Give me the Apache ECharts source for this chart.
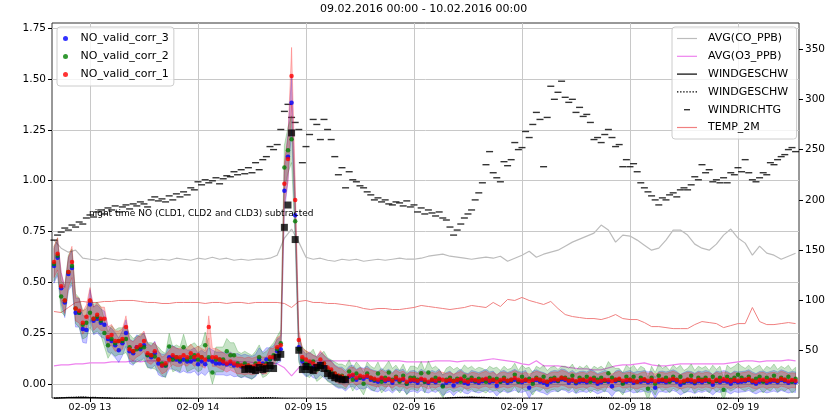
<!DOCTYPE html>
<html>
<head>
<meta charset="utf-8">
<script src="https://cdn.jsdelivr.net/npm/echarts@6/dist/echarts.min.js"></script>
<style>
  html, body { margin: 0; padding: 0; background: #fff; }
  #chart { width: 831px; height: 414px; }
</style>
</head>
<body>
<div id="chart"></div>
<script>
// x is kept as minutes after 09.02.2016 12:00
const DAY_START = new Date(2016, 1, 9, 12, 0).getTime();
const MIN = 60000;

// NO and wind direction: every 2 min from 12:40
const NO_START = 40, NO_STEP = 2;
// CO, O3, temperature: every 4 min from 12:40
const MET_START = 40, MET_STEP = 4;
// wind speed: every 8 min from 12:40
const WS_START = 40, WS_STEP = 8;
// flagged NO points (black squares): every 2 min from 14:26
const FLAG_START = 146;

const NO_CORR_1 = [
  0.60, 0.64, 0.48, 0.41, 0.55, 0.60, 0.37, 0.36, 0.30, 0.33,
  0.41, 0.32, 0.34, 0.32, 0.32, 0.23, 0.24, 0.21, 0.21, 0.22,
  0.28, 0.17, 0.16, 0.18, 0.19, 0.21, 0.15, 0.14, 0.16, 0.12,
  0.09, 0.10, 0.12, 0.14, 0.13, 0.13, 0.14, 0.13, 0.15, 0.13,
  0.14, 0.13, 0.12, 0.28, 0.13, 0.13, 0.12, 0.11, 0.10, 0.11,
  0.10, 0.09, 0.09, 0.085, 0.09, 0.085, 0.09, 0.10, 0.09, 0.09,
  0.13, 0.13, 0.18, 0.19, 0.985, 1.106, 1.515, 0.905, 0.215, 0.13,
  0.12, 0.11, 0.10, 0.09, 0.12, 0.10, 0.08, 0.07, 0.05, 0.04,
  0.036, 0.02, 0.04, 0.045, 0.03, 0.04, 0.035, 0.04, 0.03, 0.025,
  0.02, 0.03, 0.02, 0.025, 0.015, 0.03, 0.02, 0.025, 0.01, 0.02,
  0.02, 0.015, 0.025, 0.02, 0.01, 0.02, 0.015, 0.025, 0.02, 0.015,
  0.02, 0.012, 0.018, 0.025, 0.015, 0.01, 0.02, 0.018, 0.012, 0.02,
  0.025, 0.015, 0.02, 0.01, 0.018, 0.022, 0.015, 0.02, 0.028, 0.02,
  0.015, 0.02, 0.012, 0.018, 0.025, 0.02, 0.015, 0.01, 0.018, 0.022,
  0.02, 0.03, 0.025, 0.015, 0.02, 0.012, 0.018, 0.02, 0.015, 0.025,
  0.02, 0.01, 0.015, 0.02, 0.018, 0.012, 0.02, 0.025, 0.015, 0.018,
  0.02, 0.015, 0.01, 0.018, 0.022, 0.015, 0.02, 0.012, 0.018, 0.02,
  0.015, 0.02, 0.025, 0.018, 0.01, 0.015, 0.02, 0.018, 0.012, 0.02,
  0.015, 0.02, 0.018, 0.01, 0.02, 0.015, 0.022, 0.018, 0.012, 0.02,
  0.015, 0.018, 0.02, 0.025, 0.015, 0.01, 0.018, 0.02, 0.012, 0.018,
  0.02, 0.015, 0.025, 0.02, 0.012, 0.018, 0.015
];

const NO_CORR_2 = [
  0.59, 0.63, 0.43, 0.41, 0.55, 0.58, 0.37, 0.35, 0.29, 0.30,
  0.35, 0.32, 0.33, 0.31, 0.25, 0.19, 0.22, 0.20, 0.21, 0.21,
  0.22, 0.18, 0.16, 0.17, 0.18, 0.18, 0.14, 0.14, 0.134, 0.12,
  0.10, 0.09, 0.184, 0.12, 0.13, 0.12, 0.18, 0.12, 0.13, 0.14,
  0.12, 0.13, 0.19, 0.13, 0.056, 0.12, 0.12, 0.12, 0.16, 0.14,
  0.14, 0.10, 0.09, 0.10, 0.09, 0.08, 0.10, 0.13, 0.09, 0.10,
  0.12, 0.14, 0.17, 0.20, 1.065, 1.15, 1.204, 0.80, 0.17, 0.12,
  0.10, 0.09, 0.11, 0.07, 0.085, 0.10, 0.07, 0.06, 0.05, 0.04,
  0.04, 0.03, 0.06, 0.02, 0.05, 0.03, 0.0, 0.05, 0.03, 0.02,
  0.05, 0.01, 0.03, 0.055, 0.02, 0.035, 0.01, 0.04, 0.0, 0.03,
  0.03, 0.02, 0.052, 0.01, 0.055, 0.02, 0.03, 0.015, -0.013, 0.02,
  0.03, 0.015, 0.025, 0.01, 0.036, 0.02, 0.03, 0.015, 0.025, 0.02,
  0.01, 0.03, 0.02, 0.025, 0.01, 0.03, 0.015, 0.02, 0.044, 0.01,
  0.035, 0.02, 0.025, 0.0, 0.03, 0.02, 0.035, 0.01, 0.025, 0.03,
  0.015, 0.03, 0.03, 0.02, 0.04, 0.01, 0.03, 0.02, 0.035, 0.01,
  0.03, 0.02, 0.03, 0.015, 0.052, 0.03, 0.02, 0.02, 0.0, 0.035,
  0.02, 0.035, 0.01, 0.03, 0.02, -0.025, 0.03, 0.0, 0.04, 0.02,
  0.03, 0.01, 0.035, 0.02, 0.035, 0.01, 0.02, 0.04, 0.01, 0.03,
  0.02, 0.03, 0.01, 0.035, 0.015, 0.03, -0.03, 0.035, 0.02, 0.03,
  0.044, 0.03, 0.02, 0.035, 0.015, 0.025, 0.035, 0.01, 0.03, 0.02,
  0.04, 0.015, 0.03, 0.02, 0.035, 0.01, 0.025
];

const NO_CORR_3 = [
  0.58, 0.62, 0.47, 0.40, 0.54, 0.57, 0.35, 0.35, 0.27, 0.265,
  0.39, 0.31, 0.32, 0.30, 0.29, 0.22, 0.21, 0.19, 0.165, 0.20,
  0.25, 0.16, 0.15, 0.18, 0.17, 0.19, 0.142, 0.13, 0.15, 0.10,
  0.09, 0.09, 0.13, 0.13, 0.12, 0.11, 0.12, 0.11, 0.11, 0.12,
  0.096, 0.11, 0.096, 0.12, 0.11, 0.10, 0.10, 0.10, 0.095, 0.10,
  0.09, 0.093, 0.085, 0.09, 0.084, 0.08, 0.09, 0.12, 0.10, 0.12,
  0.12, 0.13, 0.16, 0.17, 0.95, 1.118, 1.384, 0.83, 0.18, 0.11,
  0.09, 0.10, 0.085, 0.08, 0.10, 0.085, 0.07, 0.06, 0.04, 0.03,
  0.03, 0.015, 0.035, 0.04, 0.02, 0.03, 0.025, 0.035, 0.02, 0.015,
  0.01, 0.025, 0.012, 0.02, 0.005, 0.022, 0.015, 0.02, 0.0, 0.012,
  0.015, 0.005, 0.02, 0.01, 0.005, 0.015, 0.008, 0.02, -0.008, 0.005,
  0.012, -0.008, 0.01, 0.02, 0.005, 0.0, 0.015, 0.01, 0.005, 0.012,
  0.02, 0.008, 0.012, -0.01, 0.01, 0.015, 0.005, 0.012, 0.02, 0.01,
  0.008, 0.015, -0.02, 0.012, 0.018, 0.01, 0.005, -0.005, 0.01, 0.015,
  0.012, 0.022, 0.018, 0.005, 0.015, 0.002, 0.01, 0.012, 0.008, 0.018,
  0.012, 0.0, 0.008, 0.015, 0.01, -0.012, 0.012, 0.018, 0.005, 0.01,
  0.015, 0.005, 0.01, 0.01, 0.015, 0.008, 0.012, -0.02, 0.01, 0.012,
  0.008, 0.012, 0.018, 0.01, -0.005, 0.005, 0.012, 0.01, 0.002, 0.012,
  0.008, 0.015, 0.01, -0.005, 0.012, 0.008, 0.015, 0.01, 0.0, 0.012,
  0.008, 0.01, 0.012, 0.018, 0.008, 0.0, 0.01, 0.012, 0.005, 0.01,
  0.015, 0.008, 0.018, 0.012, 0.005, 0.01, 0.008
];

const FLAGGED_NO = [
  0.07, 0.075, 0.07, 0.065, 0.08, 0.07, 0.075, 0.09, 0.075, 0.13,
  0.145, 0.77, 0.88, 1.235, 0.71, 0.165, 0.07, 0.085, 0.07, 0.065,
  0.08, 0.09, 0.075, 0.05, 0.04, 0.03, 0.025, 0.02, 0.02
];

const WINDRICHTG = [
  160, 165, 168, 172, 170, 175, 173, 178, 176, 182,
  185, 183, 188, 190, 186, 192, 190, 194, 188, 193,
  195, 191, 196, 194, 198, 196, 193, 200, 203, 199,
  201, 198, 204, 200, 206, 203, 208, 205, 212, 210,
  218, 215, 220, 217, 219, 222, 216, 221, 224, 223,
  228, 225, 230, 226, 232, 227, 237, 230, 240, 243,
  253, 250, 255, 270, 288, 295, 282, 277, 270, 237,
  253, 265, 280, 275, 260, 280, 270, 260, 243, 225,
  232, 212, 228, 220, 218, 214, 212, 208, 205, 200,
  202, 198, 200, 196, 195, 198, 197, 194, 199, 193,
  195, 188, 192, 186, 190, 187, 184, 188, 182, 180,
  173, 165, 170, 176, 182, 186, 190, 200, 207, 217,
  235, 248, 227, 222, 218, 238, 234, 240, 257, 250,
  252, 268, 262, 275, 287, 280, 233, 282, 313, 300,
  307, 318, 302, 297, 300, 287, 292, 283, 285, 277,
  260, 262, 257, 265, 270, 262, 253, 255, 233, 240,
  233, 236, 228, 217, 212, 208, 204, 200, 195, 202,
  200, 205, 207, 203, 210, 212, 210, 215, 223, 220,
  235, 227, 230, 218, 220, 217, 222, 217, 227, 225,
  232, 228, 240, 227, 220, 218, 222, 227, 225, 237,
  235, 240, 243, 245, 250, 252, 248
];

const CO_PPB = [
  160, 152, 148, 150, 142, 141, 140, 142, 141, 140,
  141, 140, 139, 141, 140, 141, 140, 142, 141, 140,
  142, 141, 143, 141, 142, 140, 141, 140, 141, 141,
  142, 145, 162, 171, 158, 143, 141, 142, 140, 139,
  141, 140, 141, 139, 140, 141, 140, 141, 142, 141,
  141, 142, 144, 145, 146, 144, 143, 142, 141, 142,
  143, 142, 144, 139, 142, 145, 149, 143, 146, 148,
  150, 154, 158, 161, 164, 167, 175, 170, 158, 165,
  164, 160, 155, 150, 152, 160, 170, 170, 165, 156,
  152, 150, 156, 165, 171, 162, 157, 145, 154, 147,
  145, 141, 144, 147
];

const O3_PPB = [
  35, 36, 36, 37, 37, 38, 38, 38, 39, 39,
  39, 40, 39, 40, 40, 40, 39, 40, 40, 40,
  40, 39, 40, 40, 40, 40, 39, 39, 38, 38,
  38, 37, 33, 25, 33, 39, 40, 40, 40, 40,
  40, 40, 40, 40, 40, 40, 40, 40, 40, 39,
  39, 39, 39, 40, 40, 40, 39, 40, 40, 40,
  41, 42, 41, 40, 39, 37, 36, 40, 35, 35,
  35, 34, 33, 32, 32, 31, 31, 33, 35, 36,
  36, 37, 38, 36, 35, 35, 36, 37, 37, 37,
  37, 37, 37, 37, 38, 39, 40, 40, 39, 40,
  40, 40, 41, 40
];

const TEMP_2M = [
  89, 88, 93, 98, 99, 98, 98, 99, 99, 100,
  100, 100, 99, 98, 98, 97, 97, 98, 98, 98,
  98, 97, 98, 98, 97, 98, 98, 97, 98, 98,
  98, 98, 97, 93, 99, 100, 98, 98, 97, 97,
  96, 95, 94, 92, 91, 92, 92, 91, 91, 92,
  93, 95, 94, 93, 92, 91, 92, 93, 95, 94,
  93, 98, 94, 101, 100, 103, 100, 98, 96, 99,
  92, 86, 84, 83, 82, 82, 81, 83, 86, 82,
  81, 81, 78, 74, 74, 73, 72, 72, 72, 76,
  79, 78, 77, 73, 75, 77, 77, 93, 79, 76,
  76, 77, 78, 77
];

const WINDGESCHW = [
  2.5, 3.4, 3.6, 3.2, 2.6, 2.2, 1.8, 1.9, 2.2, 2.0,
  1.8, 1.6, 1.8, 2.0, 2.3, 2.1, 1.9, 1.7, 1.5, 1.8,
  2.0, 2.2, 2.0, 1.8, 1.6, 1.5, 1.9, 2.4, 3.3, 3.5,
  3.2, 2.4, 1.9, 1.6, 1.5, 1.7, 2.1, 2.4, 2.6, 2.2,
  1.8, 1.6, 1.9, 2.2, 2.7, 3.0, 2.5, 2.1, 1.8, 1.6,
  1.7, 1.9
];

const WINDGESCHW_MAX = [
  3.0, 3.6, 3.9, 3.5, 3.0, 2.6, 2.2, 2.4, 2.7, 2.5,
  2.2, 2.0, 2.3, 2.6, 3.4, 3.5, 2.4, 2.1, 1.9, 2.2,
  2.5, 2.7, 2.5, 2.2, 2.0, 1.9, 2.3, 2.8, 3.6, 3.8,
  3.5, 2.7, 2.4, 2.0, 1.9, 2.1, 2.5, 3.4, 3.6, 2.7,
  2.2, 2.0, 2.4, 2.7, 3.5, 3.7, 3.1, 2.6, 2.2, 2.0,
  2.2, 2.3
];

const HOUR_TICKS = [60, 120, 180, 240, 300, 360, 420]; // 13:00 .. 19:00
const NO_TICKS = [0, 0.25, 0.5, 0.75, 1.0, 1.25, 1.5, 1.75];
const RIGHT_TICKS = [50, 100, 150, 200, 250, 300, 350];

// legend glyphs drawn in a 20x5 box
const ICON_LINE = 'path://M0,0M20,5M0,1.9H20V3.1H0Z';
const ICON_DOTTED = 'path://M0,0M20,5M0,1.9H1.4V3.1H0ZM3.1,1.9H4.5V3.1H3.1ZM6.2,1.9H7.6V3.1H6.2ZM9.3,1.9H10.7V3.1H9.3ZM12.4,1.9H13.8V3.1H12.4ZM15.5,1.9H16.9V3.1H15.5ZM18.6,1.9H20V3.1H18.6Z';
const ICON_DASH = 'path://M0,0M20,5M7,1.8H13V3.2H7Z';

function pairs(values, start, step) {
  return values.map((v, i) => [start + step * i, v]);
}

function pad(n) {
  return String(n).padStart(2, '0');
}

// uncertainty band (absolute + relative part) drawn as one polygon
function bandSeries(name, values, fill, edge, absErr, relErr) {
  const data = values.map((v, i) => {
    const e = absErr + relErr * Math.abs(v);
    return [NO_START + NO_STEP * i, v - e, v + e];
  });
  return {
    name: name + ' band', type: 'custom', silent: true, clip: true, z: 3,
    data,
    encode: { x: 0, y: [1, 2] },
    renderItem: (params, api) => {
      if (params.dataIndex !== 0) return null;
      const upper = data.map((d) => api.coord([d[0], d[2]]));
      const lower = data.map((d) => api.coord([d[0], d[1]])).reverse();
      return {
        type: 'polygon',
        shape: { points: upper.concat(lower) },
        style: { fill, stroke: edge, lineWidth: 0.8 }
      };
    }
  };
}

function pointSeries(name, values, color) {
  return {
    name, type: 'scatter', data: pairs(values, NO_START, NO_STEP),
    symbolSize: 4.5, itemStyle: { color }, z: 4
  };
}

const chart = echarts.init(document.getElementById('chart'), null, { renderer: 'canvas' });

const option = {
  animation: false,
  textStyle: { fontFamily: 'DejaVu Sans', color: '#000' },
  title: {
    text: '09.02.2016 00:00 - 10.02.2016 00:00',
    left: 320,
    top: 4,
    padding: 0,
    textStyle: { fontSize: 11, fontWeight: 'normal', color: '#000', fontFamily: 'DejaVu Sans' }
  },
  grid: {
    left: 52, right: 32, top: 23, bottom: 16,
    containLabel: false,
    outerBoundsMode: 'none',
    show: true,
    borderColor: '#333',
    borderWidth: 1,
    backgroundColor: 'transparent'
  },
  legend: [
    {
      data: [
        { name: 'NO_valid_corr_3', icon: 'circle' },
        { name: 'NO_valid_corr_2', icon: 'circle' },
        { name: 'NO_valid_corr_1', icon: 'circle' }
      ],
      orient: 'vertical',
      left: 57, top: 27,
      padding: [5, 5, 5, 6],
      itemWidth: 20, itemHeight: 5, itemGap: 5,
      backgroundColor: 'rgba(255,255,255,0.8)',
      borderColor: '#cccccc', borderWidth: 1, borderRadius: 3,
      textStyle: { fontSize: 11, lineHeight: 13, color: '#000' }
    },
    {
      data: [
        { name: 'AVG(CO_PPB)', icon: ICON_LINE },
        { name: 'AVG(O3_PPB)', icon: ICON_LINE },
        { name: 'WINDGESCHW', icon: ICON_LINE },
        { name: 'WINDGESCHW ', icon: ICON_DOTTED },
        { name: 'WINDRICHTG', icon: ICON_DASH },
        { name: 'TEMP_2M', icon: ICON_LINE }
      ],
      orient: 'vertical',
      left: 672, top: 27,
      padding: [5, 5, 5, 5],
      itemWidth: 20, itemHeight: 5, itemGap: 4.8,
      backgroundColor: 'rgba(255,255,255,0.8)',
      borderColor: '#cccccc', borderWidth: 1, borderRadius: 3,
      textStyle: { fontSize: 11, lineHeight: 13, color: '#000', padding: [0, 0, 0, 6] }
    }
  ],
  xAxis: {
    type: 'value',
    min: 38.9,
    max: 453.9,
    axisLine: { show: false, onZero: false },
    axisTick: {
      show: true, inside: false, length: 4,
      lineStyle: { color: '#000' },
      customValues: HOUR_TICKS
    },
    axisLabel: {
      fontSize: 9.5, color: '#000', margin: 5,
      customValues: HOUR_TICKS,
      formatter: (v) => {
        const d = new Date(DAY_START + v * MIN);
        return pad(d.getMonth() + 1) + '-' + pad(d.getDate()) + ' ' + pad(d.getHours());
      }
    },
    splitLine: { show: true, lineStyle: { color: '#c8c8c8', width: 1 } }
  },
  yAxis: [
    {
      type: 'value',
      min: -0.070, max: 1.776,
      axisLine: { show: false },
      axisTick: {
        show: true, inside: false, length: 4,
        lineStyle: { color: '#000' }, customValues: NO_TICKS
      },
      axisLabel: {
        fontSize: 10.5, color: '#000', margin: 6,
        customValues: NO_TICKS, formatter: (v) => v.toFixed(2)
      },
      splitLine: { show: true, lineStyle: { color: '#c8c8c8', width: 1 } }
    },
    {
      type: 'value',
      position: 'right',
      min: 3.0, max: 375.9,
      axisLine: { show: false },
      axisTick: {
        show: true, inside: false, length: 4,
        lineStyle: { color: '#000' }, customValues: RIGHT_TICKS
      },
      axisLabel: {
        fontSize: 10.5, color: '#000', margin: 6,
        customValues: RIGHT_TICKS, formatter: (v) => String(v)
      },
      splitLine: { show: false }
    }
  ],
  graphic: [
    {
      type: 'text', left: 89, top: 209, z: 100,
      style: {
        text: 'night time NO (CLD1, CLD2 and CLD3) subtracted',
        fontSize: 9, fontFamily: 'DejaVu Sans', fill: '#000'
      }
    }
  ],
  series: [
    {
      name: 'AVG(CO_PPB)', type: 'line', yAxisIndex: 1,
      data: pairs(CO_PPB, MET_START, MET_STEP), symbol: 'none',
      lineStyle: { color: '#bcbcbc', width: 1.2 }, itemStyle: { color: '#bcbcbc' }, z: 2
    },
    {
      name: 'AVG(O3_PPB)', type: 'line', yAxisIndex: 1,
      data: pairs(O3_PPB, MET_START, MET_STEP), symbol: 'none',
      lineStyle: { color: '#ee82ee', width: 1.2 }, itemStyle: { color: '#ee82ee' }, z: 2
    },
    {
      name: 'WINDGESCHW', type: 'line', yAxisIndex: 1,
      data: pairs(WINDGESCHW, WS_START, WS_STEP), symbol: 'none',
      lineStyle: { color: '#000', width: 1.3 }, itemStyle: { color: '#000' }, z: 2
    },
    {
      name: 'WINDGESCHW ', type: 'line', yAxisIndex: 1,
      data: pairs(WINDGESCHW_MAX, WS_START, WS_STEP), symbol: 'none',
      lineStyle: { color: '#000', width: 1.2, type: 'dotted' }, itemStyle: { color: '#000' }, z: 2
    },
    {
      name: 'WINDRICHTG', type: 'scatter', yAxisIndex: 1,
      data: pairs(WINDRICHTG, NO_START, NO_STEP),
      symbol: 'rect', symbolSize: [7, 1.4],
      itemStyle: { color: '#000' }, z: 2
    },
    {
      name: 'TEMP_2M', type: 'line', yAxisIndex: 1,
      data: pairs(TEMP_2M, MET_START, MET_STEP), symbol: 'none',
      lineStyle: { color: '#f08080', width: 1 }, itemStyle: { color: '#f08080' }, z: 2
    },
    bandSeries('NO_valid_corr_3', NO_CORR_3, 'rgba(0,0,255,0.22)', 'rgba(0,0,255,0.3)', 0.05, 0.06),
    pointSeries('NO_valid_corr_3', NO_CORR_3, '#0000ff'),
    bandSeries('NO_valid_corr_2', NO_CORR_2, 'rgba(0,128,0,0.22)', 'rgba(0,128,0,0.3)', 0.055, 0.05),
    pointSeries('NO_valid_corr_2', NO_CORR_2, '#008000'),
    bandSeries('NO_valid_corr_1', NO_CORR_1, 'rgba(255,0,0,0.22)', 'rgba(255,0,0,0.3)', 0.035, 0.07),
    pointSeries('NO_valid_corr_1', NO_CORR_1, '#ff0000'),
    {
      name: 'flagged', type: 'scatter',
      data: pairs(FLAGGED_NO, FLAG_START, NO_STEP),
      symbol: 'rect', symbolSize: 7,
      itemStyle: { color: '#000' }, z: 5
    }
  ]
};

chart.setOption(option);
</script>
</body>
</html>
